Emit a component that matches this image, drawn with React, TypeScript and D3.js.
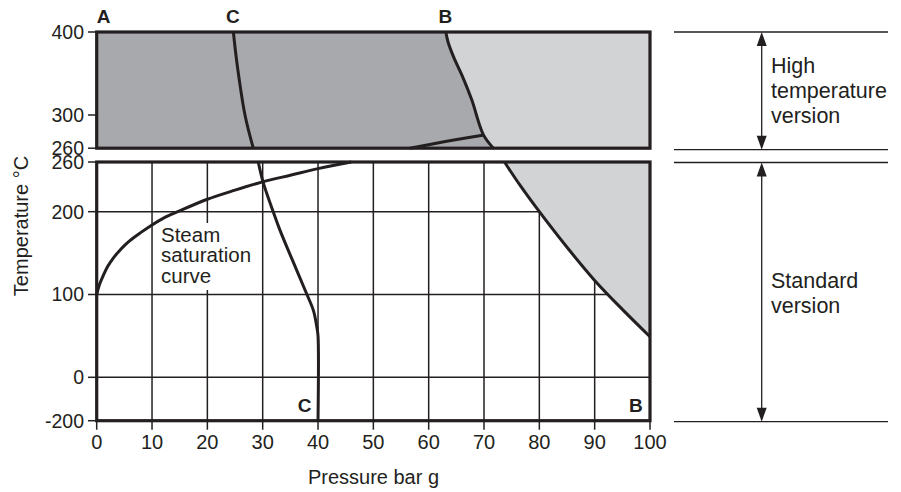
import React from 'react';
import * as d3 from 'd3';

// pressure (bar g) / temperature (°C) pairs
const pressureTicks = [0, 10, 20, 30, 40, 50, 60, 70, 80, 90, 100];
const topTempTicks = [400, 300, 260];
const bottomTempTicks = [260, 200, 100, 0, -200];
const gridTemps = [0, 100, 200];

const saturationCurve: [number, number][] = [
  [0, 100], [0.5, 112], [1, 120], [2, 134], [3, 144], [4, 152], [5, 159],
  [6, 165], [8, 175], [10, 184], [12, 192], [15, 201], [20, 215], [25, 226],
  [30, 236], [35, 244], [40, 252], [46, 260],
];
const saturationTop: [number, number][] = [[56.6, 260], [63, 268], [70, 276]];

const curveCTop: [number, number][] = [[24.7, 400], [25.4, 360], [26.8, 300], [28.3, 260]];
const curveCBottom: [number, number][] = [
  [29.2, 260], [30.1, 235], [31.9, 200], [33.1, 178], [36.1, 130], [38, 100],
  [39.2, 80], [39.8, 60], [40, 50], [40, -200],
];

const curveBTop: [number, number][] = [
  [63.1, 400], [63.5, 388], [64.5, 370], [66.2, 345], [67.8, 318], [69.9, 276], [71.7, 260],
];
const curveBBottom: [number, number][] = [
  [73.7, 260], [76.5, 232], [80, 200], [85, 157], [90, 117], [95, 82], [100, 49],
];

const ink = '#231f20';
const dark = '#a7a9ac';
const light = '#d1d3d4';
const font = 'Liberation Sans, Arial, Helvetica, sans-serif';

export default function App() {
  const x = d3.scaleLinear().domain([0, 100]).range([96.7, 650]);
  const yTop = d3.scaleLinear().domain([260, 400]).range([148.2, 32]);
  const yBot = d3.scaleLinear().domain([-200, 0, 260]).range([420.7, 377.3, 162]);

  const lineTop = d3.line<[number, number]>().x(d => x(d[0])).y(d => yTop(d[1])).curve(d3.curveCatmullRom);
  const lineBot = d3.line<[number, number]>().x(d => x(d[0])).y(d => yBot(d[1])).curve(d3.curveCatmullRom);
  const satLine = d3.line<[number, number]>().x(d => x(d[0])).y(d => yBot(d[1])).curve(d3.curveMonotoneX);

  const areaTop = d3.area<[number, number]>().y(d => yTop(d[1])).x0(d => x(d[0])).x1(x(100)).curve(d3.curveCatmullRom);
  const areaBot = d3.area<[number, number]>().y(d => yBot(d[1])).x0(d => x(d[0])).x1(x(100)).curve(d3.curveCatmullRom);

  const x0 = x(0), x1 = x(100);
  const arrowX = 761.7;
  const lineL = 674, lineR = 888;
  const refY = [yTop(400), yTop(260) + 1.5, yBot(260) + 0.5, yBot(-200) + 1];

  const arrow = (y1: number, y2: number) => (
    <g>
      <line x1={arrowX} x2={arrowX} y1={y1 + 8} y2={y2 - 8} stroke={ink} strokeWidth={1.3} />
      <path d={`M${arrowX},${y1} L${arrowX - 5},${y1 + 14} L${arrowX + 5},${y1 + 14} Z`} fill={ink} />
      <path d={`M${arrowX},${y2} L${arrowX - 5},${y2 - 14} L${arrowX + 5},${y2 - 14} Z`} fill={ink} />
    </g>
  );

  return (
    <svg width={901} height={492} style={{ position: 'absolute', left: 0, top: 0, background: '#fff' }} fontFamily={font}>
      {/* top panel: high temperature */}
      <rect x={x0} y={yTop(400)} width={x1 - x0} height={yTop(260) - yTop(400)} fill={dark} />
      <path d={areaTop(curveBTop) || ''} fill={light} />
      <path d={lineTop(curveBTop) || ''} fill="none" stroke={ink} strokeWidth={3} />
      <path d={lineTop(curveCTop) || ''} fill="none" stroke={ink} strokeWidth={3} />
      <path d={lineTop(saturationTop) || ''} fill="none" stroke={ink} strokeWidth={3} />
      <rect x={x0} y={yTop(400)} width={x1 - x0} height={yTop(260) - yTop(400)} fill="none" stroke={ink} strokeWidth={3.2} />

      {/* bottom panel: standard */}
      {pressureTicks.slice(1, -1).map(p => (
        <line key={p} x1={x(p)} x2={x(p)} y1={yBot(260)} y2={yBot(-200)} stroke={ink} strokeWidth={1.5} />
      ))}
      {gridTemps.map(t => (
        <line key={t} x1={x0} x2={x1} y1={yBot(t)} y2={yBot(t)} stroke={ink} strokeWidth={1.5} />
      ))}
      <rect x={158} y={223} width={100} height={67} fill="#fff" />
      <path d={areaBot(curveBBottom) || ''} fill={light} />
      <path d={lineBot(curveBBottom) || ''} fill="none" stroke={ink} strokeWidth={3} />
      <path d={lineBot(curveCBottom) || ''} fill="none" stroke={ink} strokeWidth={3} />
      <path d={satLine(saturationCurve) || ''} fill="none" stroke={ink} strokeWidth={3} />
      <rect x={x0} y={yBot(260)} width={x1 - x0} height={yBot(-200) - yBot(260)} fill="none" stroke={ink} strokeWidth={3.2} />

      {/* y ticks */}
      {topTempTicks.map(t => (
        <g key={'t' + t}>
          <line x1={88} x2={x0} y1={yTop(t)} y2={yTop(t)} stroke={ink} strokeWidth={1.5} />
          <text x={84} y={yTop(t) + 6.5} textAnchor="end" fontSize={19.5} fill={ink}>{t}</text>
        </g>
      ))}
      {bottomTempTicks.map(t => (
        <g key={'b' + t}>
          <line x1={88} x2={x0} y1={yBot(t)} y2={yBot(t)} stroke={ink} strokeWidth={1.5} />
          <text x={84} y={yBot(t) + 7} textAnchor="end" fontSize={19.5} fill={ink}>{t}</text>
        </g>
      ))}
      {/* x ticks */}
      {pressureTicks.map(p => (
        <g key={'p' + p}>
          <line x1={x(p)} x2={x(p)} y1={yBot(-200)} y2={yBot(-200) + 9} stroke={ink} strokeWidth={1.5} />
          <text x={x(p)} y={449} textAnchor="middle" fontSize={20} fill={ink}>{p}</text>
        </g>
      ))}

      <text x={373.5} y={484} textAnchor="middle" fontSize={20} fill={ink}>Pressure bar g</text>
      <text transform="translate(27.5,226) rotate(-90)" textAnchor="middle" fontSize={20} fill={ink}>Temperature °C</text>

      {/* curve letters */}
      <g fontWeight="bold" fontSize={19} fill={ink}>
        <text x={x(0)} y={23}>A</text>
        <text x={x(24.6)} y={23} textAnchor="middle">C</text>
        <text x={x(63)} y={23} textAnchor="middle">B</text>
        <text x={x(38.8)} y={412} textAnchor="end">C</text>
        <text x={x(98.7)} y={412} textAnchor="end">B</text>
      </g>

      <g fontSize={20.5} fill={ink}>
        <text x={161} y={241.7}>Steam</text>
        <text x={161} y={262.2}>saturation</text>
        <text x={161} y={283.3}>curve</text>
      </g>

      {/* version ranges on the right */}
      {refY.map((y, i) => (
        <line key={i} x1={lineL} x2={lineR} y1={y} y2={y} stroke={ink} strokeWidth={1.3} />
      ))}
      {arrow(refY[0], refY[1])}
      {arrow(refY[2], refY[3])}
      <g fontSize={21.5} fill={ink}>
        <text x={771} y={73.3}>High</text>
        <text x={771} y={98.3}>temperature</text>
        <text x={771} y={123.3}>version</text>
        <text x={771} y={288.3}>Standard</text>
        <text x={771} y={313.3}>version</text>
      </g>
    </svg>
  );
}
